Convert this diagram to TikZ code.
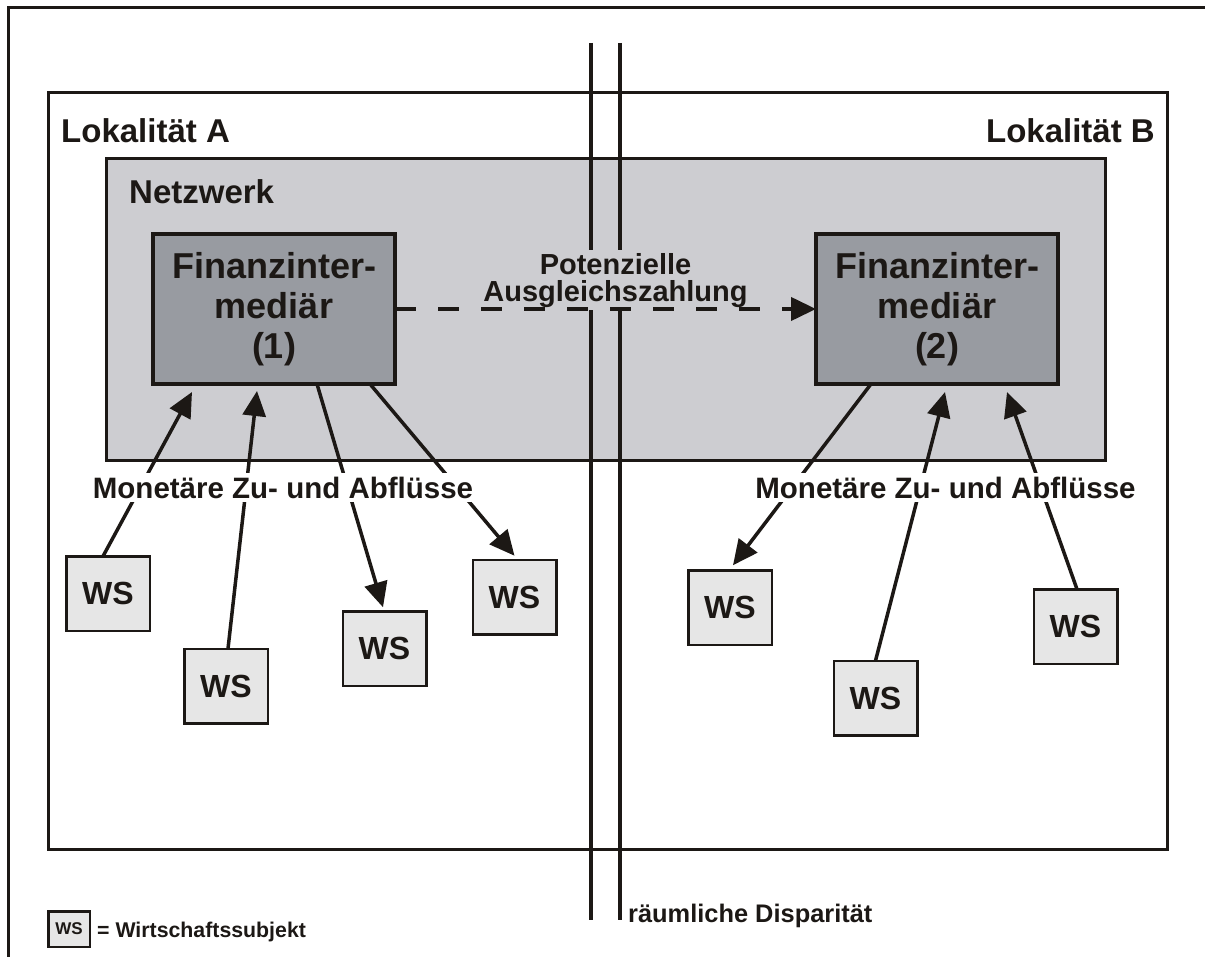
\documentclass[tikz,border=0pt]{standalone}
\usepackage{fontspec}
\setmainfont{Liberation Sans}
\usetikzlibrary{arrows.meta,calc}
\definecolor{ink}{RGB}{28,24,21}
\definecolor{netgray}{RGB}{205,205,209}
\definecolor{figray}{RGB}{152,155,161}
\definecolor{wsgray}{RGB}{230,230,230}
\newcommand{\fsz}[2]{\fontsize{#1}{#2}\selectfont\bfseries}
\begin{document}
\begin{tikzpicture}[x=1pt,y=-1pt,
  fibox/.style={draw=ink, fill=figray, line width=4pt, minimum width=242pt, minimum height=150pt,
    inner sep=0pt, outer sep=0pt, align=center, font=\fsz{36}{40}, text=ink},
  wsbox/.style={draw=ink, fill=wsgray, line width=2.5pt, minimum width=83.5pt, minimum height=74.5pt,
    inner sep=0pt, outer sep=0pt, font=\fsz{32}{36}, text=ink},
  flow/.style={draw=ink, line width=3.5pt, -{Triangle[length=25pt,width=23pt]}},
  mlabel/.style={font=\fsz{29.5}{34}, fill=white, inner xsep=3pt, inner ysep=4pt, text=ink},
  title/.style={font=\fsz{33}{38}, text=ink, inner sep=0pt},
  frame/.style={draw=ink, line width=3pt}
]
\useasboundingbox (0,0) rectangle (1205,957);
% outer frame
\draw[frame] (8.5,965) -- (8.5,7.5) -- (1210,7.5);
% Lokalitaet box
\draw[frame] (48.5,92.5) rectangle (1167,849.5);
% Netzwerk box
\draw[frame, fill=netgray] (106.5,158.5) rectangle (1105.5,460.5);
% spatial disparity double line
\coordinate (l1t) at (591,43); \coordinate (l1b) at (591,920);
\coordinate (l2t) at (620,43); \coordinate (l2b) at (620,920);
\draw[ink, line width=3.5pt] (l1t) -- (l1b);
\draw[ink, line width=3.5pt] (l2t) -- (l2b);
% titles
\node[title, anchor=base west] (locA) at (61,143) {Lokalität A};
\node[title, anchor=base east] (locB) at (1155,143) {Lokalität B};
\node[title, anchor=base west] (netz) at (129,204) {Netzwerk};
% compensation label
\node[font=\fsz{29}{27}, align=center, fill=netgray, inner xsep=2pt, inner ysep=3pt,
  anchor=north, text=ink] (pot) at (615.5,250) {Potenzielle\\Ausgleichszahlung};
% intermediaries
\node[fibox] (b1) at (274,309) {Finanzinter-\\mediär\\(1)};
\node[fibox] (b2) at (937,309) {Finanzinter-\\mediär\\(2)};
\draw[ink, line width=4pt, dash pattern=on 21pt off 22pt, -{Triangle[length=25pt,width=23pt]}] (b1.east) -- (b2.west);
% economic subjects
\node[wsbox] (ws1) at (108,593.5) {WS};
\node[wsbox] (ws2) at (226,686) {WS};
\node[wsbox] (ws3) at (384.5,648.5) {WS};
\node[wsbox] (ws4) at (514.5,597) {WS};
\node[wsbox] (ws5) at (730,607.5) {WS};
\node[wsbox] (ws6) at (875.5,698) {WS};
\node[wsbox] (ws7) at (1075.5,626.5) {WS};
% flows
\draw[flow] ([xshift=-5pt]ws1.north) -- ([xshift=-82pt,yshift=-8pt]b1.south);
\draw[flow] ([xshift=2pt]ws2.north) -- ([xshift=-17pt,yshift=-7pt]b1.south);
\draw[flow] ([xshift=43pt]b1.south) -- ([xshift=-1.5pt,yshift=4pt]ws3.north);
\draw[flow] ([xshift=96pt]b1.south) -- ([yshift=4pt]ws4.north);
\draw[flow] ([xshift=-66pt]b2.south) -- ([xshift=3pt,yshift=5pt]ws5.north);
\draw[flow] (ws6.north) -- ([xshift=8pt,yshift=-8pt]b2.south);
\draw[flow] ([xshift=1.5pt]ws7.north) -- ([xshift=70pt,yshift=-8pt]b2.south);
\node[mlabel, anchor=base] (m1) at (283,498) {Monetäre Zu- und Abflüsse};
\node[mlabel, anchor=base] (m2) at (945.5,498) {Monetäre Zu- und Abflüsse};
% disparity label
\node[anchor=base west, font=\fsz{25.4}{30}, inner sep=0pt, text=ink] (disp) at (628,922) {räumliche Disparität};
% legend
\node[draw=ink, fill=wsgray, line width=2.5pt, minimum width=41.5pt, minimum height=35.5pt,
  inner sep=0pt, outer sep=0pt, font=\fsz{17}{20}, text=ink] (lws) at (69,929) {WS};
\node[anchor=base west, font=\fsz{21.3}{25}, inner sep=0pt, text=ink] (leg) at (97,937) {= Wirtschaftssubjekt};
\end{tikzpicture}
\end{document}
